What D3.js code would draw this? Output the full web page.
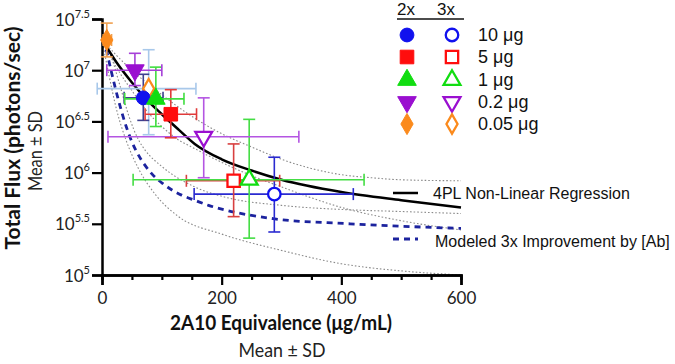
<!DOCTYPE html>
<html>
<head>
<meta charset="utf-8">
<script src="https://cdn.jsdelivr.net/npm/d3@7"></script>
<style>
  html, body { margin: 0; padding: 0; background: #fff; }
  svg { display: block; }
</style>
</head>
<body>
<svg id="chart" width="675" height="364"></svg>
<script>
// ---------------- DATA (x = 2A10 equivalence µg/mL, y = log10 total flux) ----------------
const categories = ["10 μg", "5 μg", "1 μg", "0.2 μg", "0.05 μg"];

// 2x (filled markers)
const x2    = [69, 115, 90, 55, 8];
const x2Lo  = [37, 72, 38, 8, 2];
const x2Hi  = [102, 158, 137, 100, 16];
const y2    = [6.73, 6.57, 6.72, 7.00, 7.295];
const y2Lo  = [6.51, 6.34, 6.45, 6.85, 7.13];
const y2Hi  = [6.96, 6.81, 7.03, 7.165, 7.46];

// 3x (open markers)
const x3    = [288, 220, 246, 170, 78];
const x3Lo  = [154, 141, 52, 10, -8];
const x3Hi  = [420, 297, 438, 329, 157];
const y3    = [5.79, 5.92, 5.93, 6.35, 6.82];
const y3Lo  = [5.42, 5.57, 5.36, 5.95, 6.37];
const y3Hi  = [6.15, 6.28, 6.52, 6.73, 7.20];

// 4PL non-linear regression and its confidence band
const fitX        = [0, 25, 50, 72, 100, 128, 155, 200, 250, 300, 400, 500, 600];
const fitLog      = [7.30, 7.07, 6.88, 6.73, 6.57, 6.42, 6.28, 6.13, 6.02, 5.93, 5.81, 5.73, 5.66];
const fitUpperX   = [0, 25, 50, 100, 150, 200, 250, 300, 350, 400, 450, 500, 600];
const fitUpperLog = [7.30, 7.14, 7.00, 6.76, 6.55, 6.38, 6.25, 6.13, 6.04, 5.98, 5.95, 5.93, 5.92];
const fitLowerX   = [0, 25, 50, 75, 100, 125, 150, 200, 250, 300, 400, 500, 600];
const fitLowerLog = [7.30, 7.02, 6.80, 6.60, 6.45, 6.33, 6.25, 6.10, 5.97, 5.86, 5.66, 5.53, 5.44];

// Modeled 3x improvement by [Ab] and its band
const modelX        = [0, 5, 15, 26, 41, 50, 61, 72, 83, 100, 117, 133, 155, 178, 206, 286, 414, 600];
const modelLog      = [7.30, 7.24, 7.00, 6.74, 6.44, 6.30, 6.17, 6.07, 5.99, 5.90, 5.83, 5.78, 5.73, 5.68, 5.635, 5.55, 5.50, 5.455];
const modelUpperX   = [0, 13, 30, 45, 61, 72, 100, 155, 206, 300, 400, 500, 600];
const modelUpperLog = [7.30, 7.17, 6.85, 6.55, 6.32, 6.22, 6.06, 5.86, 5.76, 5.68, 5.64, 5.62, 5.60];
const modelLowerX   = [0, 10, 25, 40, 60, 90, 128, 200, 300, 400, 500, 600];
const modelLowerLog = [7.30, 7.00, 6.60, 6.32, 6.05, 5.78, 5.57, 5.40, 5.24, 5.11, 5.04, 5.00];

// ticks
const xMajorTicks = [0, 200, 400, 600];
const xMinorTicks = [50, 100, 150, 250, 300, 350, 450, 500, 550];
const yTickExps   = ["5", "5.5", "6", "6.5", "7", "7.5"];

// ---------------- STYLE ----------------
const markerColors = ["#1111ee", "#ff0d0d", "#11dd11", "#9a0fd0", "#fb8a1c"];
const err2Colors   = ["#3d3f8f", "#e03a3a", "#3fdd3f", "#a640d8", "#f0a050"];
const err3Colors   = ["#2a2ad0", "#d84040", "#44dd44", "#b455e2", "#a8c8ea"];
const shapes = ["circle", "square", "triangle", "triangleDown", "diamond"];

const svg = d3.select("#chart");
const x = d3.scaleLinear().domain([0, 600]).range([102, 461]);
const y = d3.scaleLog().domain([1e5, Math.pow(10, 7.5)]).range([275, 19]);
const yv = L => y(Math.pow(10, L));

// ---------------- CURVES ----------------
function curve(xs, ls) { return xs.map((v, i) => [v, ls[i]]); }
const line = d3.line().x(d => x(d[0])).y(d => yv(d[1])).curve(d3.curveMonotoneX);
const gCurves = svg.append("g");
const dotted = { stroke: "#8a8a8a", width: 1.1, dash: "1.6,2" };
[[fitUpperX, fitUpperLog], [fitLowerX, fitLowerLog], [modelUpperX, modelUpperLog], [modelLowerX, modelLowerLog]]
  .forEach(([xs, ls]) => {
    gCurves.append("path").attr("d", line(curve(xs, ls)))
      .attr("fill", "none").attr("stroke", dotted.stroke)
      .attr("stroke-width", dotted.width).attr("stroke-dasharray", dotted.dash);
  });
gCurves.append("path").attr("d", line(curve(modelX, modelLog)))
  .attr("fill", "none").attr("stroke", "#1c239e").attr("stroke-width", 2.8)
  .attr("stroke-dasharray", "6,5");
gCurves.append("path").attr("d", line(curve(fitX, fitLog)))
  .attr("fill", "none").attr("stroke", "#000").attr("stroke-width", 2.5);

// ---------------- AXES ----------------
const gx = svg.append("g").attr("transform", "translate(0,275)");
gx.call(d3.axisBottom(x).tickValues(xMinorTicks).tickSize(5).tickFormat(""));
const gxMaj = svg.append("g").attr("transform", "translate(0,275)");
gxMaj.call(d3.axisBottom(x).tickValues(xMajorTicks).tickSize(10).tickPadding(7).tickFormat(d3.format("d")));
[gx, gxMaj].forEach(g => {
  g.select(".domain").attr("stroke", "#000").attr("stroke-width", 2.5);
  g.selectAll(".tick line").attr("stroke", "#000").attr("stroke-width", 2.2);
});
gxMaj.selectAll(".tick text").attr("font-family", "Lato, sans-serif").attr("font-size", 17)
  .attr("fill", "#222");

const gy = svg.append("g").attr("transform", "translate(102,0)");
gy.call(d3.axisLeft(y).tickValues(yTickExps.map(e => Math.pow(10, +e))).tickSize(10).tickFormat(""));
gy.select(".domain").attr("stroke", "#000").attr("stroke-width", 2.5);
gy.selectAll(".tick line").attr("stroke", "#000").attr("stroke-width", 2.2);
gy.selectAll(".tick").each(function(d, i) {
  const t = d3.select(this).append("text")
    .attr("x", -12).attr("y", 6).attr("text-anchor", "end")
    .attr("font-family", "Lato, sans-serif").attr("font-size", 17).attr("fill", "#222");
  t.append("tspan").text("10");
  t.append("tspan").attr("dy", -8).attr("font-size", 11).text(yTickExps[i]);
});

// axis titles
svg.append("text").attr("transform", "translate(20,138) rotate(-90)")
  .attr("text-anchor", "middle").attr("font-family", "Lato, sans-serif")
  .attr("font-weight", "bold").attr("font-size", 20).attr("fill", "#111")
  .attr("textLength", 223).attr("lengthAdjust", "spacingAndGlyphs")
  .text("Total Flux (photons/sec)");
svg.append("text").attr("transform", "translate(42,151) rotate(-90)")
  .attr("text-anchor", "middle").attr("font-family", "Lato, sans-serif")
  .attr("font-size", 20).attr("fill", "#222")
  .attr("textLength", 80).attr("lengthAdjust", "spacingAndGlyphs")
  .text("Mean ± SD");
svg.append("text").attr("x", 281).attr("y", 330)
  .attr("text-anchor", "middle").attr("font-family", "Lato, sans-serif")
  .attr("font-weight", "bold").attr("font-size", 20).attr("fill", "#111")
  .attr("textLength", 222).attr("lengthAdjust", "spacingAndGlyphs")
  .text("2A10 Equivalence (μg/mL)");
svg.append("text").attr("x", 282).attr("y", 357)
  .attr("text-anchor", "middle").attr("font-family", "Lato, sans-serif")
  .attr("font-size", 20).attr("fill", "#222")
  .attr("textLength", 87).attr("lengthAdjust", "spacingAndGlyphs")
  .text("Mean ± SD");

// ---------------- ERROR BARS ----------------
const gErr = svg.append("g");
function errorBar(cx, cy, xlo, xhi, ylo, yhi, color) {
  const g = gErr.append("g").attr("stroke", color).attr("stroke-width", 1.6).attr("fill", "none");
  const px = x(cx), py = yv(cy), c = 6;
  g.append("line").attr("x1", x(xlo)).attr("x2", x(xhi)).attr("y1", py).attr("y2", py);
  g.append("line").attr("x1", x(xlo)).attr("x2", x(xlo)).attr("y1", py - c).attr("y2", py + c);
  g.append("line").attr("x1", x(xhi)).attr("x2", x(xhi)).attr("y1", py - c).attr("y2", py + c);
  g.append("line").attr("x1", px).attr("x2", px).attr("y1", yv(ylo)).attr("y2", yv(yhi));
  g.append("line").attr("x1", px - c).attr("x2", px + c).attr("y1", yv(ylo)).attr("y2", yv(ylo));
  g.append("line").attr("x1", px - c).attr("x2", px + c).attr("y1", yv(yhi)).attr("y2", yv(yhi));
}
categories.forEach((c, i) => errorBar(x3[i], y3[i], x3Lo[i], x3Hi[i], y3Lo[i], y3Hi[i], err3Colors[i]));
categories.forEach((c, i) => errorBar(x2[i], y2[i], x2Lo[i], x2Hi[i], y2Lo[i], y2Hi[i], err2Colors[i]));

// ---------------- MARKERS ----------------
function marker(g, shape, cx, cy, color, open) {
  let path, rot = 0;
  const s = open ? 0.82 : 1;
  if (shape === "circle") path = d3.symbol(d3.symbolCircle, 150 * s)();
  else if (shape === "square") path = d3.symbol(d3.symbolSquare, 185 * s)();
  else if (shape === "triangle") path = d3.symbol(d3.symbolTriangle, 150 * s)();
  else if (shape === "triangleDown") { path = d3.symbol(d3.symbolTriangle, 150 * s)(); rot = 180; }
  else path = d3.symbol(d3.symbolDiamond, 130 * s)();
  g.append("path").attr("d", path)
    .attr("transform", `translate(${cx},${cy}) rotate(${rot})`)
    .attr("fill", open ? "#fff" : color)
    .attr("stroke", color).attr("stroke-width", open ? 2.3 : 1);
}
const gPts = svg.append("g");
categories.forEach((c, i) => marker(gPts, shapes[i], x(x3[i]), yv(y3[i]), markerColors[i], true));
categories.forEach((c, i) => marker(gPts, shapes[i], x(x2[i]), yv(y2[i]), markerColors[i], false));

// ---------------- LEGEND ----------------
const gLeg = svg.append("g").attr("font-family", "'Liberation Sans', Arial, sans-serif").attr("fill", "#111");
gLeg.append("text").attr("x", 397).attr("y", 15).attr("font-size", 17).text("2x");
gLeg.append("text").attr("x", 437).attr("y", 15).attr("font-size", 17).text("3x");
gLeg.append("line").attr("x1", 397).attr("x2", 464).attr("y1", 19).attr("y2", 19)
  .attr("stroke", "#111").attr("stroke-width", 1.6);
const rowY = [35, 57, 80, 102, 124];
categories.forEach((c, i) => {
  marker(gLeg, shapes[i], 407, rowY[i], markerColors[i], false);
  marker(gLeg, shapes[i], 452, rowY[i], markerColors[i], true);
  gLeg.append("text").attr("x", 478).attr("y", rowY[i] + 6).attr("font-size", 18).text(c);
});
gLeg.append("line").attr("x1", 393).attr("x2", 418).attr("y1", 193).attr("y2", 193)
  .attr("stroke", "#000").attr("stroke-width", 2.5);
gLeg.append("text").attr("x", 433).attr("y", 199).attr("font-size", 16).text("4PL Non-Linear Regression");
gLeg.append("line").attr("x1", 393).attr("x2", 418).attr("y1", 239).attr("y2", 239)
  .attr("stroke", "#1c239e").attr("stroke-width", 2.8).attr("stroke-dasharray", "6,5");
gLeg.append("text").attr("x", 435).attr("y", 247).attr("font-size", 16).text("Modeled 3x Improvement by [Ab]");
</script>
</body>
</html>
